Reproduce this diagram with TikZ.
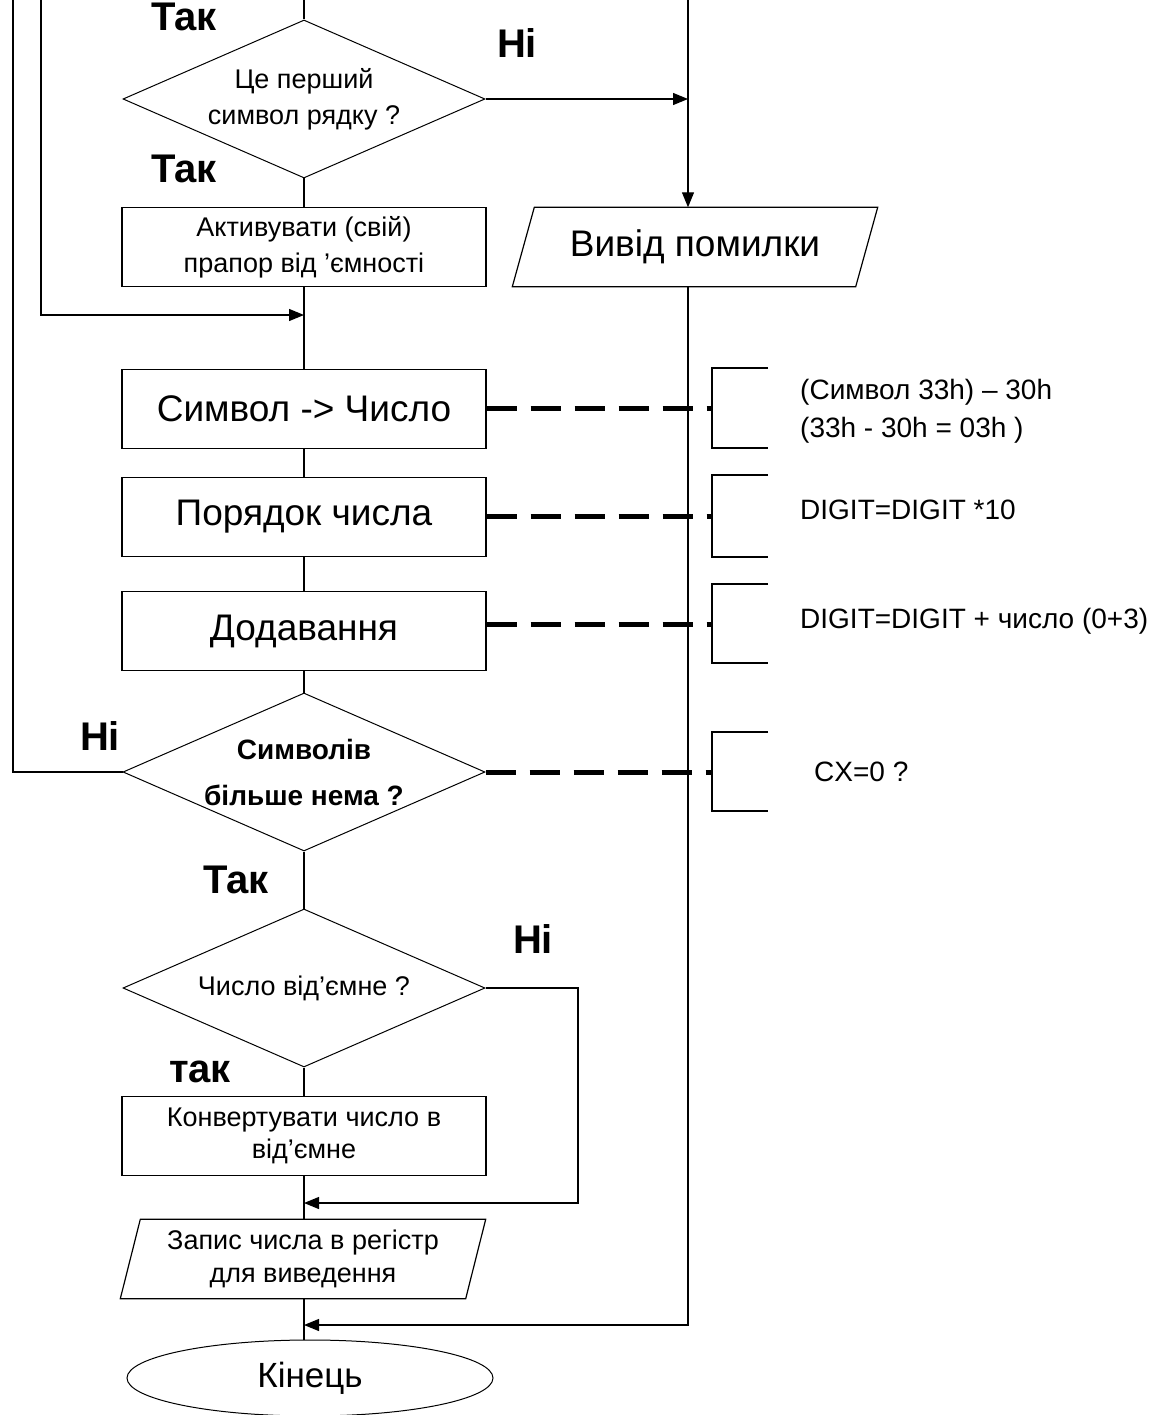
\documentclass[tikz,border=0pt]{standalone}
\usepackage{fontspec}
\setmainfont{Liberation Sans}
\usetikzlibrary{shapes.geometric,arrows.meta,calc}
\begin{document}
\begin{tikzpicture}[x=1pt,y=-1pt,
  line/.style={line width=1.2pt},
  arr/.style={line width=1.2pt,-{Triangle[length=15pt,width=12pt]}},
  proc/.style={draw,line width=1.2pt,rectangle,minimum width=364pt,minimum height=79pt,inner sep=0pt,align=center},
  dec/.style={draw,line width=1pt,diamond,aspect=2.29,minimum width=362pt,minimum height=158pt,inner sep=0pt,align=center},
  io/.style={rectangle,minimum width=345pt,minimum height=79pt,inner sep=0pt,align=center},
  small/.style={font=\fontsize{26}{34}\selectfont},
  big/.style={font=\fontsize{37}{44}\selectfont},
  lbl/.style={font=\bfseries\fontsize{40}{48}\selectfont,anchor=base,inner sep=0pt},
  dashc/.style={line width=5pt,dash pattern=on 30pt off 14pt},
  brk/.style={line width=2.5pt},
  note/.style={font=\fontsize{28}{38}\selectfont,anchor=west,align=left,inner sep=0pt}]
\useasboundingbox (0,0) rectangle (1163,1415);

% nodes
\node[dec,font=\fontsize{27}{36}\selectfont] (d1) at (304,99) {Це перший\\символ рядку ?};
\node[proc,font=\fontsize{27}{36}\selectfont] (act) at (304,247) {Активувати (свій)\\прапор від 'ємності};
\node[io,big,minimum width=343pt] (err) at (695,247) {Вивід помилки};
\draw[line] ([xshift=11pt]err.north west) -- ([xshift=11pt]err.north east) -- ([xshift=-11pt]err.south east) -- ([xshift=-11pt]err.south west) -- cycle;
\node[proc,big] (s1) at (304,409) {Символ -> Число};
\node[proc,big] (s2) at (304,517) {Порядок числа};
\node[proc,big] (s3) at (304,631) {Додавання};
\node[dec,font=\bfseries\fontsize{28}{46}\selectfont] (d2) at (304,772) {Символів\\більше нема ?};
\node[dec,font=\fontsize{27}{34}\selectfont] (d3) at (304,988) {Число від'ємне ?};
\node[proc,font=\fontsize{27}{32}\selectfont] (conv) at (304,1136) {Конвертувати число в\\від'ємне};
\node[io,font=\fontsize{27}{33}\selectfont] (zap) at (303,1259) {Запис числа в регістр\\для виведення};
\draw[line] ([xshift=10pt]zap.north west) -- ([xshift=10pt]zap.north east) -- ([xshift=-10pt]zap.south east) -- ([xshift=-10pt]zap.south west) -- cycle;
\node[draw,line width=1pt,ellipse,minimum width=366pt,minimum height=76pt,inner sep=0pt,font=\fontsize{35}{40}\selectfont] (fin) at (310,1378) {Кінець};

% labels
\node[lbl] (t1) at (184,31) {Так};
\node[lbl] (h1) at (517,58) {Ні};
\node[lbl] (t2) at (184,183) {Так};
\node[lbl] (h2) at (100,750) {Ні};
\node[lbl] (t3) at (236,893) {Так};
\node[lbl] (h3) at (533,953) {Ні};
\node[lbl] (t4) at (200,1082) {так};

% coordinates
\coordinate (tM) at (304,0);
\coordinate (tR) at (688,0);
\coordinate (jR) at (688,99);
\coordinate (tL2) at (41,0);
\coordinate (jL2) at (304,315);
\coordinate (tL1) at (13,0);
\coordinate (rN) at (578,1203);
\coordinate (jZ) at (304,1203);
\coordinate (rE) at (688,1325);
\coordinate (jE) at (304,1325);

% connectors
\draw[line] (tM) -- (d1.north);
\draw[line] (d1.south) -- (act.north);
\draw[arr] (d1.east) -- (jR);
\draw[arr] (tR) -- (tR |- err.north);
\draw[arr] (tL2) |- (jL2);
\draw[line] (act.south) -- (s1.north);
\draw[line] (s1.south) -- (s2.north);
\draw[line] (s2.south) -- (s3.north);
\draw[line] (s3.south) -- (d2.north);
\draw[line] (d2.west) -| (tL1);
\draw[line] (d2.south) -- (d3.north);
\draw[line] (d3.south) -- (conv.north);
\draw[line] (conv.south) -- (tM |- zap.north);
\draw[arr] (d3.east) -| (rN) -- (jZ);
\draw[line] (tM |- zap.south) -- (tM |- fin.north);
\draw[arr] (err.south -| tR) -- (rE) -- (jE);

% annotations
\coordinate (b1) at (712,408);
\coordinate (b2) at (712,516);
\coordinate (b3) at (712,624);
\coordinate (b4) at (712,772);
\draw[dashc] (s1.east |- b1) -- (b1);
\draw[dashc] (s2.east |- b2) -- (b2);
\draw[dashc] (s3.east |- b3) -- (b3);
\draw[dashc] (d2.east) -- (b4);
\draw[brk] (768,368) -- (712,368) -- (712,448) -- (768,448);
\draw[brk] (768,475) -- (712,475) -- (712,557) -- (768,557);
\draw[brk] (768,584) -- (712,584) -- (712,663) -- (768,663);
\draw[brk] (768,732) -- (712,732) -- (712,811) -- (768,811);
\node[note] (n1) at (800,411) {(Символ 33h) – 30h\\(33h - 30h = 03h )};
\node[note] (n2) at (800,510) {DIGIT=DIGIT *10};
\node[note] (n3) at (800,621) {DIGIT=DIGIT + число (0+3)};
\node[note] (n4) at (814,772) {CX=0 ?};
\end{tikzpicture}
\end{document}
